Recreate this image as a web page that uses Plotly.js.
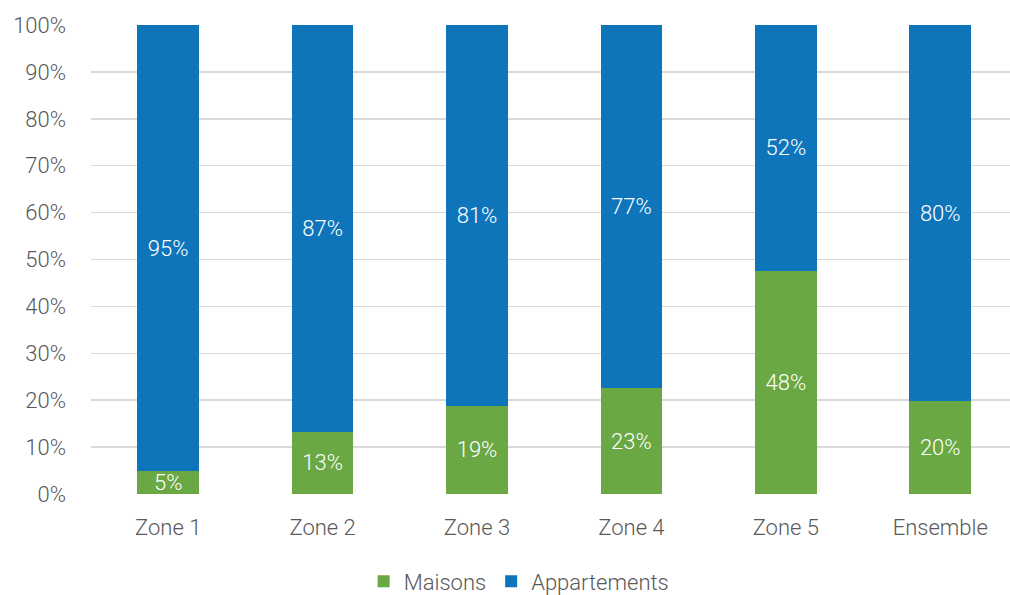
<!DOCTYPE html>
<html>
<head>
<meta charset="utf-8">
<script src="https://cdn.plot.ly/plotly-3.0.1.min.js"></script>
<style>html,body{margin:0;padding:0;background:#fff;}#chart{width:1010px;height:595px;}</style>
</head>
<body>
<div id="chart"></div>
<script>
const categories = ["Zone 1", "Zone 2", "Zone 3", "Zone 4", "Zone 5", "Ensemble"];
const maisons = [4.9, 13.3, 18.8, 22.6, 47.6, 19.8];
const appartements = [95.1, 86.7, 81.2, 77.4, 52.4, 80.2];
const yTickVals = [0, 10, 20, 30, 40, 50, 60, 70, 80, 90, 100];
const yTickText = ["0%", "10%", "20%", "30%", "40%", "50%", "60%", "70%", "80%", "90%", "100%"];

const font = "Roboto, 'Noto Sans', sans-serif";
const traces = [
  {
    type: "bar", name: "Maisons", x: categories, y: maisons,
    marker: {color: "#6aa843"},
    width: 0.4,
    texttemplate: "%{y:.0f}%", textposition: "inside", insidetextanchor: "middle",
    textfont: {color: "#ffffff", size: 22, family: font, weight: 300},
    constraintext: "none", cliponaxis: false
  },
  {
    type: "bar", name: "Appartements", x: categories, y: appartements,
    marker: {color: "#0e75bb"},
    width: 0.4,
    texttemplate: "%{y:.0f}%", textposition: "inside", insidetextanchor: "middle",
    textfont: {color: "#ffffff", size: 22, family: font, weight: 300},
    constraintext: "none", cliponaxis: false
  }
];
const layout = {
  width: 1010, height: 595,
  barmode: "stack",
  paper_bgcolor: "#fff", plot_bgcolor: "#fff",
  margin: {l: 91, r: 0, t: 25, b: 101},
  font: {family: font, color: "#595959", size: 22, weight: 300},
  showlegend: true,
  legend: {
    orientation: "h", xref: "container", yref: "container",
    x: 0.514, xanchor: "center", y: 0.058, yanchor: "top",
    font: {size: 22, color: "#595959", family: font, weight: 300},
    itemwidth: 30, traceorder: "normal"
  },
  xaxis: {
    type: "category", range: [-0.5, 5.452],
    showgrid: false, zeroline: false, showline: false,
    ticks: "", ticklabelstandoff: 18,
    tickfont: {size: 22, color: "#595959", family: font, weight: 300}
  },
  yaxis: {
    range: [0, 100], tickvals: yTickVals, ticktext: yTickText,
    showgrid: true, gridcolor: "#d9d9d9", gridwidth: 1.5,
    zeroline: false, showline: false, ticks: "",
    ticklabelstandoff: 24,
    tickfont: {size: 22, color: "#595959", family: font, weight: 300}
  },
  bargap: 0.6
};
Plotly.newPlot("chart", traces, layout, {displayModeBar: false, staticPlot: true});
</script>
</body>
</html>
